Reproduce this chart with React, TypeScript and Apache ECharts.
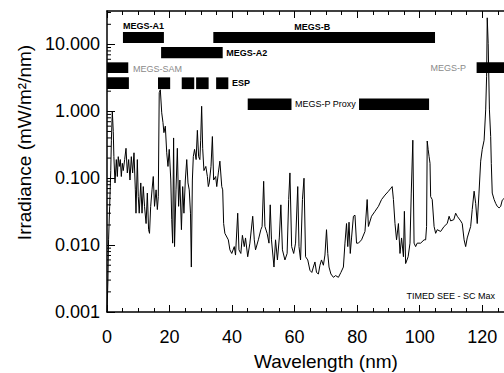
import React, { useEffect, useRef } from 'react';
import * as echarts from 'echarts';

// Spectrum: wavelength (nm) and irradiance (mW/m^2/nm)
const wavelength = [
  0, 0.3, 0.5, 0.85, 1.2, 1.4, 1.7, 2.0, 2.2, 2.56, 2.98, 3.3, 3.6, 3.94, 4.26, 4.58, 4.9, 5.2, 5.65, 6.08,
  6.5, 6.93, 7.35, 7.78, 8.2, 8.63, 9.06, 9.27, 9.7, 10.0, 10.3, 10.8, 11.2, 11.6, 12.0, 12.5, 12.9, 13.3, 13.6, 13.97,
  14.4, 14.8, 15.2, 15.7, 16.1, 16.4, 16.7, 17.05, 17.5, 17.9, 18.2, 18.65, 19.1, 19.5, 19.9, 20.4, 20.7, 21.0, 21.3, 21.6,
  22.07, 22.5, 22.9, 23.3, 23.8, 24.2, 24.6, 25.05, 25.5, 25.9, 26.3, 26.7, 26.97, 27.3, 27.6, 28.0, 28.5, 28.9, 29.3, 29.7,
  29.96, 30.27, 30.6, 31.0, 31.6, 32.1, 32.4, 32.7, 33.26, 33.7, 34.1, 34.75, 35.1, 35.6, 36.1, 36.7, 37.0, 37.3, 37.7, 38.8,
  39.3, 39.9, 40.7, 41.1, 41.8, 42.2, 42.8, 43.3, 43.9, 44.3, 45.0, 45.7, 46.6, 47.1, 47.5, 48.4, 49.2, 49.6, 50.1, 50.5,
  51.2, 51.8, 52.2, 52.6, 53.4, 53.9, 54.5, 55.1, 55.6, 56.1, 56.9, 57.6, 58.1, 58.5, 59.05, 59.7, 60.3, 61.0, 61.4, 61.9,
  62.5, 63.0, 63.5, 64.2, 64.9, 65.5, 66.0, 66.5, 67.0, 67.6, 68.1, 68.6, 69.2, 69.7, 70.2, 70.6, 71.0, 71.6, 72.4, 73.1,
  74.0, 74.8, 75.6, 76.1, 76.6, 77.0, 77.4, 77.8, 78.2, 78.8, 79.3, 79.8, 80.4, 81.4, 82.5, 83.2, 83.6, 84.6, 85.7, 86.8,
  87.8, 88.9, 89.9, 90.8, 91.2, 91.6, 92.1, 92.6, 93.2, 93.7, 94.2, 94.8, 95.1, 95.5, 96.3, 96.9, 97.3, 97.8, 98.2, 98.7,
  99.2, 100.3, 101.4, 101.9, 102.2, 102.4, 102.7, 103.0, 103.3, 103.5, 104.0, 104.6, 105.1, 105.6, 106.7, 107.8, 108.8, 109.4, 109.9, 110.9,
  111.5, 112.0, 113.1, 113.6, 114.2, 114.7, 115.2, 116.3, 116.8, 117.4, 117.9, 118.4, 118.96, 119.5, 120.0, 120.6, 121.1, 121.4, 121.6, 121.9,
  122.3, 122.7, 122.9, 123.2, 123.8, 124.3, 124.8, 125.4, 125.9, 126.4, 127.0, 128.0,
];
const irradiance = [
  0.001, 0.003, 0.012, 0.038, 0.13, 0.37, 1.0, 0.5, 0.21, 0.085, 0.19, 0.106, 0.21, 0.15, 0.19, 0.106, 0.167, 0.13, 0.19, 0.28,
  0.12, 0.19, 0.094, 0.21, 0.12, 0.24, 0.067, 0.03, 0.19, 0.053, 0.03, 0.085, 0.03, 0.075, 0.038, 0.021, 0.06, 0.017, 0.015, 0.038,
  0.067, 0.106, 0.038, 0.067, 0.034, 0.053, 1.9, 2.1, 0.95, 0.68, 0.48, 0.6, 0.24, 0.15, 0.27, 0.094, 0.024, 0.0107, 0.4, 0.0095,
  0.067, 0.28, 0.038, 0.094, 0.017, 0.075, 0.03, 0.094, 0.19, 0.085, 0.067, 0.03, 0.0047, 0.094, 0.21, 0.27, 0.19, 0.52, 0.21, 0.19,
  0.37, 1.19, 0.28, 0.13, 0.15, 0.106, 0.075, 0.085, 0.15, 0.42, 0.094, 0.106, 0.075, 0.12, 0.18, 0.075, 0.067, 0.021, 0.015, 0.012,
  0.0085, 0.0075, 0.0095, 0.0071, 0.03, 0.0085, 0.0075, 0.014, 0.0095, 0.0128, 0.0067, 0.0107, 0.027, 0.012, 0.0085, 0.012, 0.017, 0.019, 0.09, 0.019,
  0.015, 0.0107, 0.04, 0.012, 0.0047, 0.012, 0.006, 0.0128, 0.04, 0.0085, 0.006, 0.0075, 0.048, 0.12, 0.0095, 0.0075, 0.0107, 0.075, 0.0095, 0.006,
  0.048, 0.1, 0.0067, 0.006, 0.0042, 0.0039, 0.0047, 0.0056, 0.0039, 0.0037, 0.005, 0.006, 0.005, 0.0071, 0.017, 0.0075, 0.0047, 0.0037, 0.0033, 0.0035,
  0.0033, 0.0039, 0.0047, 0.0107, 0.021, 0.0095, 0.022, 0.0075, 0.0128, 0.027, 0.028, 0.0107, 0.0107, 0.012, 0.016, 0.048, 0.019, 0.027, 0.032, 0.038,
  0.048, 0.056, 0.063, 0.071, 0.075, 0.048, 0.021, 0.012, 0.021, 0.0075, 0.0128, 0.0067, 0.032, 0.0053, 0.0067, 0.0107, 0.06, 0.37, 0.0107, 0.0095,
  0.0107, 0.0107, 0.012, 0.012, 0.019, 0.36, 0.27, 0.21, 0.167, 0.053, 0.048, 0.019, 0.015, 0.017, 0.016, 0.019, 0.021, 0.027, 0.023, 0.024,
  0.03, 0.027, 0.023, 0.021, 0.012, 0.0095, 0.0128, 0.019, 0.034, 0.064, 0.042, 0.021, 0.06, 0.18, 0.27, 0.37, 1.05, 3.35, 25, 10.4,
  1.05, 0.42, 0.167, 0.06, 0.048, 0.042, 0.038, 0.036, 0.038, 0.047, 0.05, 0.05,
];

// Instrument coverage bars: wavelength range (nm) and irradiance band (low/high)
const barNames = ['MEGS-A1', 'MEGS-B', 'MEGS-A2', 'MEGS-SAM', 'MEGS-P', 'ESP', 'ESP', 'ESP', 'ESP', 'ESP', 'MEGS-P Proxy', 'MEGS-P Proxy'];
const barStart = [5.1, 34, 17.3, 0, 118.2, 0, 16.3, 23.9, 28.5, 34.9, 45, 80.6];
const barEnd = [18.2, 104.9, 37, 6.8, 140, 7, 20.2, 27.9, 32.5, 38.8, 59, 103];
const barLow = [10.5, 10.5, 6.2, 3.74, 3.74, 2.15, 2.15, 2.15, 2.15, 2.15, 1.045, 1.045];
const barHigh = [15.3, 15.3, 9.15, 5.4, 5.4, 3.22, 3.22, 3.22, 3.22, 3.22, 1.56, 1.56];

// Annotation texts and their anchors in data space
const noteTexts = ['MEGS-A1', 'MEGS-B', 'MEGS-A2', 'MEGS-SAM', 'ESP', 'MEGS-P Proxy', 'MEGS-P', 'TIMED SEE - SC Max'];
const noteX = [11.7, 65.6, 38.1, 8.3, 40.0, 60.1, 114.8, 124.1];
const noteY = [18.8, 18.2, 7.4, 4.36, 2.65, 1.285, 4.4, 0.00173];

// Tick labels
const xTickLabels = ['0', '20', '40', '60', '80', '100', '120'];
const yTickLabels = ['0.001', '0.010', '0.100', '1.000', '10.000'];

const FONT = 'Liberation Sans, Arial, Helvetica, sans-serif';

const noteStyle: Record<string, { align: string; color: string; weight: string }> = {
  'MEGS-A1': { align: 'center', color: '#000', weight: 'bold' },
  'MEGS-B': { align: 'center', color: '#000', weight: 'bold' },
  'MEGS-A2': { align: 'left', color: '#000', weight: 'bold' },
  'MEGS-SAM': { align: 'left', color: '#8a8a8a', weight: 'normal' },
  'ESP': { align: 'left', color: '#000', weight: 'bold' },
  'MEGS-P Proxy': { align: 'left', color: '#000', weight: 'normal' },
  'MEGS-P': { align: 'right', color: '#8a8a8a', weight: 'normal' },
  'TIMED SEE - SC Max': { align: 'right', color: '#000', weight: 'normal' },
};

export default function App() {
  const ref = useRef<HTMLDivElement>(null);

  useEffect(() => {
    if (!ref.current) return;
    const chart = echarts.init(ref.current, undefined, { renderer: 'svg' });

    const yMinor: number[] = [];
    for (let n = -3; n <= 1; n++) {
      for (let k = 2; k <= 9; k++) {
        const v = k * Math.pow(10, n);
        if (v < 31.6) yMinor.push(v);
      }
    }

    const xMin = 0;
    const xMax = 140;
    const pxPerNm = 3.127;

    const xCommon = {
      type: 'value' as const,
      min: xMin,
      max: xMax,
      interval: 20,
      axisLine: { show: true, lineStyle: { color: '#000', width: 1.5 } },
      axisTick: { show: true, inside: true, length: 7, lineStyle: { color: '#000', width: 1 } },
      minorTick: { show: true, splitNumber: 4, length: 4, lineStyle: { color: '#000', width: 1 } },
      splitLine: { show: false },
      minorSplitLine: { show: false },
    };

    chart.setOption({
      animation: false,
      grid: {
        left: 107,
        top: 11,
        width: xMax * pxPerNm,
        height: 301,
        containLabel: false,
        outerBoundsMode: 'none',
      },
      xAxis: [
        {
          ...xCommon,
          position: 'bottom',
          name: 'Wavelength (nm)',
          nameLocation: 'middle',
          nameGap: 40,
          nameTextStyle: { fontFamily: FONT, fontSize: 19, color: '#000' },
          axisLabel: {
            show: true,
            margin: 16,
            fontFamily: FONT,
            fontSize: 18,
            color: '#000',
            formatter: (v: number) => {
              const i = Math.round(v / 20);
              return Math.abs(v - i * 20) < 1e-6 && i < xTickLabels.length ? xTickLabels[i] : '';
            },
          },
        },
        {
          ...xCommon,
          position: 'top',
          axisLabel: { show: false },
        },
      ],
      yAxis: {
        type: 'log',
        logBase: 10,
        min: 0.001,
        max: 31.62,
        name: 'Irradiance (mW/m\u00B2/nm)',
        nameLocation: 'middle',
        nameGap: 69,
        nameTextStyle: { fontFamily: FONT, fontSize: 19, color: '#000', padding: [0, 0, 0, 38] },
        axisLine: { show: true, lineStyle: { color: '#000', width: 1.5 } },
        axisTick: { show: true, inside: true, length: 8, lineStyle: { color: '#000', width: 1 } },
        splitLine: { show: false },
        axisLabel: {
          show: true,
          margin: 7,
          fontFamily: FONT,
          fontSize: 18,
          color: '#000',
          showMaxLabel: false,
          formatter: (v: number) => {
            const l = Math.log10(v);
            const r = Math.round(l);
            if (Math.abs(l - r) > 1e-6) return '';
            const i = r + 3;
            return i >= 0 && i < yTickLabels.length ? yTickLabels[i] : '';
          },
        },
      },
      series: [
        {
          type: 'line',
          data: wavelength.map((w, i) => [w, irradiance[i]]),
          showSymbol: false,
          symbol: 'none',
          lineStyle: { color: '#000', width: 1 },
          clip: true,
          z: 2,
        },
        {
          type: 'custom',
          name: 'bars',
          data: barStart.map((s, i) => [s, barEnd[i], barLow[i], barHigh[i]]),
          encode: { x: [0, 1], y: [2, 3] },
          clip: false,
          z: 3,
          renderItem: (params: any, api: any) => {
            const a = api.coord([api.value(0), api.value(3)]);
            const b = api.coord([api.value(1), api.value(2)]);
            return {
              type: 'rect',
              shape: { x: a[0], y: a[1], width: b[0] - a[0], height: b[1] - a[1] },
              style: { fill: '#000' },
            };
          },
        },
        {
          type: 'custom',
          name: 'notes',
          data: noteX.map((x, i) => [x, noteY[i]]),
          encode: { x: 0, y: 1 },
          clip: false,
          z: 4,
          renderItem: (params: any, api: any) => {
            const i = params.dataIndex;
            const p = api.coord([api.value(0), api.value(1)]);
            const txt = noteTexts[i];
            const st = noteStyle[txt];
            return {
              type: 'text',
              x: p[0],
              y: p[1],
              style: {
                text: txt,
                fill: st.color,
                fontFamily: FONT,
                fontSize: 9,
                fontWeight: st.weight,
                align: st.align,
                verticalAlign: 'middle',
              },
            };
          },
        },
        {
          type: 'custom',
          name: 'yMinorTicks',
          data: yMinor.map((v) => [0, v]),
          encode: { x: 0, y: 1 },
          clip: false,
          z: 5,
          renderItem: (params: any, api: any) => {
            const p = api.coord([api.value(0), api.value(1)]);
            return {
              type: 'line',
              shape: { x1: p[0], y1: p[1], x2: p[0] + 4, y2: p[1] },
              style: { stroke: '#000', lineWidth: 1 },
            };
          },
        },
      ],
    });

    return () => chart.dispose();
  }, []);

  return (
    <div
      ref={ref}
      style={{ position: 'fixed', left: 0, top: 0, width: 580, height: 373, background: '#fff' }}
    />
  );
}
